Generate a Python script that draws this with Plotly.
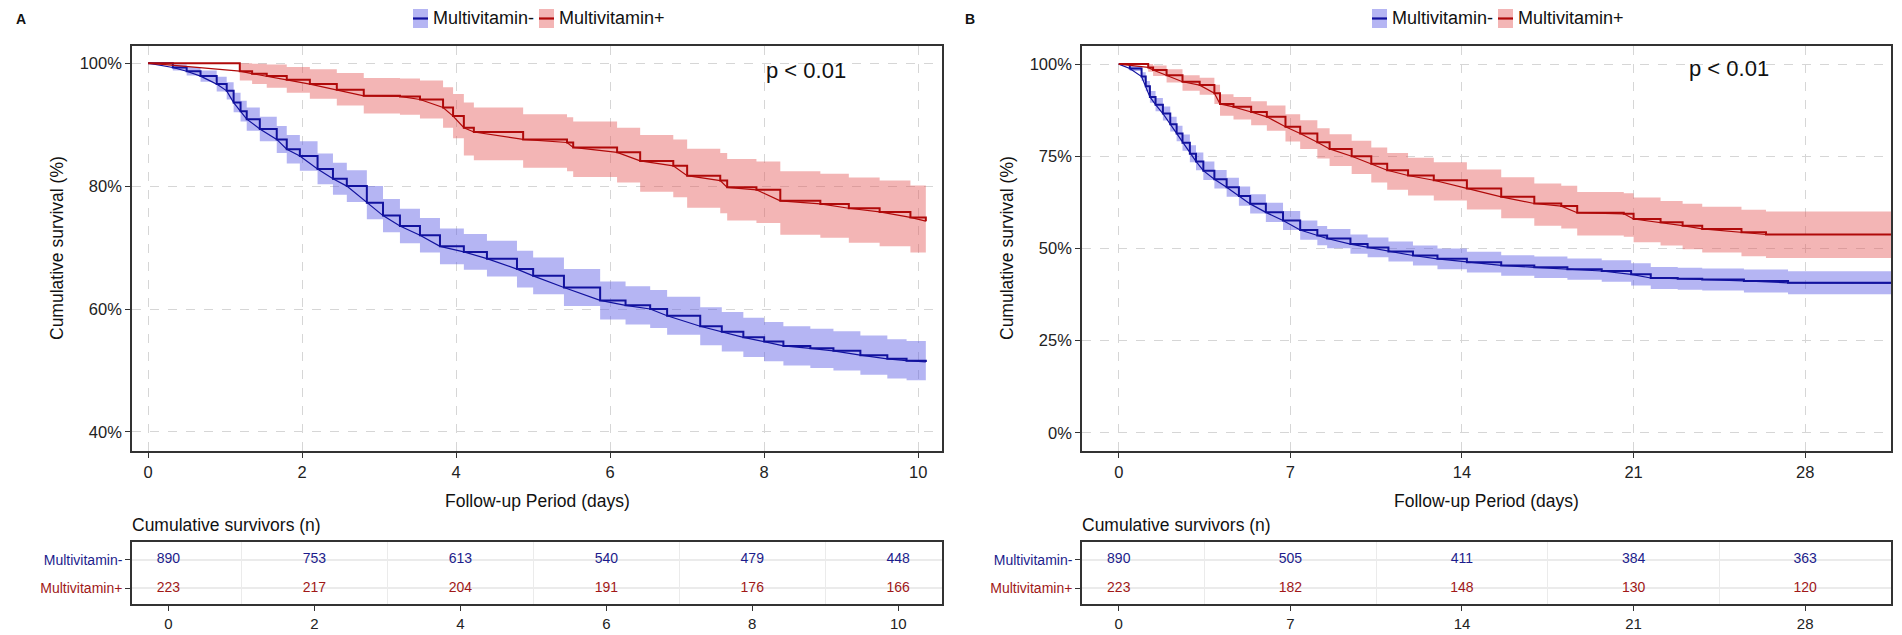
import plotly.graph_objects as go

# ---------------- data ----------------
# Panel A (10-day follow-up)
A_neg_t = [0, 0.32, 0.5, 0.68, 0.89, 1.02, 1.11, 1.2, 1.28, 1.45, 1.67, 1.8, 1.97, 2.2, 2.4, 2.58,
           2.84, 3.05, 3.27, 3.53, 3.79, 4.1, 4.4, 4.79, 5.0, 5.4, 5.87, 6.2, 6.52, 6.74, 7.17, 7.45,
           7.73, 8.0, 8.25, 8.6, 8.9, 9.25, 9.6, 9.85, 10.1]
A_neg_s = [100, 99.3, 98.7, 97.9, 96.6, 95.5, 93.6, 92.2, 90.9, 89.3, 87.6, 86.0, 84.9, 82.8, 81.2, 80.0,
           77.3, 75.2, 73.5, 72.0, 70.2, 69.3, 68.2, 66.5, 65.4, 63.5, 61.4, 60.6, 60.0, 58.9, 57.2, 56.3,
           55.4, 54.7, 54.0, 53.6, 53.2, 52.5, 51.9, 51.6, 51.4]
A_neg_lo = [100, 98.8, 98.0, 97.0, 95.4, 94.1, 92.0, 90.5, 89.0, 87.3, 85.4, 83.7, 82.5, 80.3, 78.6, 77.4,
            74.6, 72.5, 70.7, 69.2, 67.3, 66.4, 65.3, 63.5, 62.4, 60.5, 58.3, 57.5, 56.9, 55.8, 54.1, 53.1,
            52.2, 51.5, 50.8, 50.4, 50.0, 49.3, 48.7, 48.4, 48.2]
A_neg_hi = [100, 99.8, 99.4, 98.8, 97.8, 96.9, 95.2, 93.9, 92.8, 91.3, 89.8, 88.3, 87.3, 85.3, 83.8, 82.6,
            80.0, 77.9, 76.3, 74.8, 73.1, 72.2, 71.1, 69.5, 68.4, 66.5, 64.5, 63.7, 63.1, 62.0, 60.3, 59.5,
            58.6, 57.9, 57.2, 56.8, 56.4, 55.7, 55.1, 54.8, 54.6]

A_pos_t = [0, 1.19, 1.35, 1.54, 1.8, 2.1, 2.45, 2.8, 3.27, 3.53, 3.83, 3.96, 4.1, 4.23, 4.87, 5.44,
           5.52, 6.09, 6.39, 6.82, 7.0, 7.43, 7.52, 7.9, 8.21, 8.73, 9.1, 9.5, 9.9, 10.1]
A_pos_s = [100, 98.7, 98.3, 97.9, 97.3, 96.6, 95.7, 94.7, 94.6, 94.1, 92.8, 91.4, 89.5, 88.8, 87.6, 87.1,
           86.3, 85.5, 84.1, 83.3, 81.7, 80.9, 79.8, 79.4, 77.6, 77.1, 76.4, 75.8, 74.9, 74.3]
A_pos_lo = [100, 97.2, 96.6, 96.0, 95.2, 94.2, 93.1, 91.8, 91.6, 91.0, 89.5, 87.8, 85.0, 84.2, 83.0, 82.4,
            81.5, 80.6, 79.1, 78.2, 76.5, 75.6, 74.4, 74.0, 72.1, 71.6, 70.8, 70.2, 69.2, 68.6]
A_pos_hi = [100, 100, 99.9, 99.8, 99.4, 99.0, 98.4, 97.6, 97.5, 97.2, 96.1, 95.0, 93.6, 92.8, 91.7, 91.2,
            90.5, 89.5, 88.3, 87.6, 86.1, 85.4, 84.4, 84.0, 82.4, 82.0, 81.4, 80.9, 80.1, 79.6]

# Panel B (30-day follow-up)
B_neg_t = [0, 0.45, 0.93, 1.1, 1.27, 1.5, 1.8, 2.1, 2.36, 2.6, 2.9, 3.15, 3.45, 3.9, 4.4, 4.9, 5.36,
           6.0, 6.7, 7.4, 8.1, 8.5, 9.45, 10.15, 11, 12, 13, 14.2, 15.6, 16.95, 18.3, 19.7, 20.9, 21.7,
           22.8, 23.8, 25.5, 27.3, 31.5]
B_neg_s = [100, 98.8, 96.6, 94.0, 91.1, 89.0, 86.6, 83.7, 81.2, 78.7, 75.7, 73.6, 71.1, 68.8, 66.6, 64.2,
           62.1, 59.8, 57.6, 55.0, 53.5, 52.7, 51.2, 50.3, 49.2, 48.1, 47.2, 46.3, 45.4, 44.9, 44.4, 43.9,
           43.0, 42.0, 41.8, 41.6, 41.2, 40.7, 40.6]
B_neg_lo = [100, 98.1, 95.4, 92.6, 89.5, 87.2, 84.7, 81.7, 79.1, 76.5, 73.4, 71.2, 68.6, 66.3, 64.0, 61.6,
            59.5, 57.2, 55.0, 52.4, 50.9, 50.1, 48.6, 47.6, 46.5, 45.4, 44.4, 43.5, 42.6, 42.0, 41.5, 41.0,
            40.0, 39.0, 38.8, 38.6, 38.1, 37.6, 37.5]
B_neg_hi = [100, 99.5, 97.8, 95.4, 92.7, 90.8, 88.5, 85.7, 83.3, 80.9, 78.0, 76.0, 73.6, 71.3, 69.2, 66.8,
            64.7, 62.4, 60.2, 57.6, 56.1, 55.3, 53.8, 53.0, 51.9, 50.8, 50.0, 49.1, 48.2, 47.8, 47.3, 46.8,
            46.0, 45.0, 44.8, 44.6, 44.3, 43.8, 43.7]

B_pos_t = [0, 1.2, 1.4, 1.95, 2.6, 3.3, 3.9, 4.13, 4.68, 5.4, 6.04, 6.8, 7.4, 8.1, 8.6, 9.5, 10.3, 10.95,
           11.8, 12.85, 14.2, 15.6, 16.95, 18.05, 18.7, 20.6, 21.0, 22.1, 23.0, 23.8, 25.4, 26.4, 31.5]
B_pos_s = [100, 99.1, 98.4, 97.0, 95.2, 94.3, 92.1, 89.2, 88.4, 87.0, 85.7, 83.0, 81.2, 78.8, 77.0, 75.0,
           73.0, 71.2, 69.8, 68.5, 66.3, 64.0, 62.2, 61.5, 59.7, 59.4, 58.0, 57.1, 56.2, 55.3, 54.4, 53.8, 53.8]
B_pos_lo = [100, 97.9, 96.8, 95.0, 92.8, 91.7, 89.2, 86.0, 85.0, 83.4, 81.9, 79.0, 77.0, 74.4, 72.4, 70.2,
            67.9, 65.9, 64.4, 63.0, 60.6, 58.2, 56.2, 55.4, 53.5, 53.2, 51.7, 50.8, 49.8, 48.9, 47.9, 47.4, 47.4]
B_pos_hi = [100, 100, 99.6, 98.6, 97.0, 96.3, 94.4, 91.8, 91.1, 89.9, 88.8, 86.4, 84.8, 82.6, 81.0, 79.2,
            77.4, 75.9, 74.6, 73.4, 71.4, 69.3, 67.6, 67.0, 65.3, 65.0, 63.8, 62.9, 62.1, 61.3, 60.5, 60.0, 60.0]

# Risk tables
A_table_t = [0, 2, 4, 6, 8, 10]
A_table_neg = [890, 753, 613, 540, 479, 448]
A_table_pos = [223, 217, 204, 191, 176, 166]
B_table_t = [0, 7, 14, 21, 28]
B_table_neg = [890, 505, 411, 384, 363]
B_table_pos = [223, 182, 148, 130, 120]

groups = ["Multivitamin-", "Multivitamin+"]
A_yticks = [40, 60, 80, 100]
B_yticks = [0, 25, 50, 75, 100]

# ---------------- styles ----------------
FONT = "Liberation Sans"
BLUE = "#12129E"
RED = "#B00A0A"
BLUE_FILL = "rgba(90,90,228,0.45)"
RED_FILL = "rgba(228,90,90,0.45)"
BLUE_TXT = "#1C1C8C"
RED_TXT = "#A01818"
W, H = 1902, 635


def px(x):
    return x / W


def py(y):
    return 1 - y / H


fig = go.Figure()


def add_curve(xa, ya, t, s, lo, hi, line_c, fill_c):
    fig.add_trace(go.Scatter(x=t, y=lo, mode="lines", line=dict(width=0, shape="hv"),
                             xaxis=xa, yaxis=ya, showlegend=False, hoverinfo="skip"))
    fig.add_trace(go.Scatter(x=t, y=hi, mode="lines", line=dict(width=0, shape="hv"),
                             fill="tonexty", fillcolor=fill_c,
                             xaxis=xa, yaxis=ya, showlegend=False, hoverinfo="skip"))
    fig.add_trace(go.Scatter(x=t, y=s, mode="lines", line=dict(width=2.0, color=line_c, shape="hv"),
                             xaxis=xa, yaxis=ya, showlegend=False))
    fig.add_trace(go.Scatter(x=t, y=s, mode="lines", line=dict(width=1.2, color=line_c, shape="linear"),
                             xaxis=xa, yaxis=ya, showlegend=False, hoverinfo="skip"))


add_curve("x", "y", A_neg_t, A_neg_s, A_neg_lo, A_neg_hi, BLUE, BLUE_FILL)
add_curve("x", "y", A_pos_t, A_pos_s, A_pos_lo, A_pos_hi, RED, RED_FILL)
add_curve("x2", "y2", B_neg_t, B_neg_s, B_neg_lo, B_neg_hi, BLUE, BLUE_FILL)
add_curve("x2", "y2", B_pos_t, B_pos_s, B_pos_lo, B_pos_hi, RED, RED_FILL)

# risk-table numbers
for xa, ya, tt, neg, pos in [("x3", "y3", A_table_t, A_table_neg, A_table_pos),
                             ("x4", "y4", B_table_t, B_table_neg, B_table_pos)]:
    fig.add_trace(go.Scatter(x=tt, y=[2] * len(tt), mode="text", text=[str(v) for v in neg],
                             textfont=dict(family=FONT, size=14, color=BLUE_TXT),
                             xaxis=xa, yaxis=ya, showlegend=False))
    fig.add_trace(go.Scatter(x=tt, y=[1] * len(tt), mode="text", text=[str(v) for v in pos],
                             textfont=dict(family=FONT, size=14, color=RED_TXT),
                             xaxis=xa, yaxis=ya, showlegend=False))

# ---------------- axes ----------------
plotA_x = [px(132), px(942)]
plotB_x = [px(1082), px(1891)]
plot_y = [py(451), py(46)]
tab_y = [py(604), py(542)]

box = dict(showline=True, mirror=True, linecolor="#333333", linewidth=1.6, ticks="outside",
           ticklen=5, tickcolor="#333333", tickwidth=1.2, zeroline=False)
grid = dict(showgrid=True, gridcolor="#D6D6D6", griddash="dash", gridwidth=1)
tickf = dict(family=FONT, size=16.5, color="#222222")

fig.update_layout(
    xaxis=dict(domain=plotA_x, range=[-0.21, 10.31], tickvals=A_table_t, anchor="y",
               tickfont=tickf, **box, **grid),
    yaxis=dict(domain=plot_y, range=[36.9, 102.8], tickvals=A_yticks,
               ticktext=[f"{v}%" for v in A_yticks], anchor="x",
               tickfont=tickf, **box, **grid),
    xaxis2=dict(domain=plotB_x, range=[-1.5, 31.5], tickvals=B_table_t, anchor="y2",
                tickfont=tickf, **box, **grid),
    yaxis2=dict(domain=plot_y, range=[-4.9, 104.9], tickvals=B_yticks,
                ticktext=[f"{v}%" for v in B_yticks], anchor="x2",
                tickfont=tickf, **box, **grid),
)

tab_common_x = dict(showgrid=False, tickfont=dict(family=FONT, size=15, color="#222222"), **box)
ticktext = [f"<span style='color:{RED_TXT}'>{groups[1]}</span>",
            f"<span style='color:{BLUE_TXT}'>{groups[0]}</span>"]
tab_common_y = dict(range=[0.43, 2.64], tickvals=[1, 2], ticktext=ticktext, showgrid=True,
                    gridcolor="#EBEBEB", gridwidth=1.5,
                    tickfont=dict(family=FONT, size=14), **box)

fig.update_layout(
    xaxis3=dict(domain=plotA_x, range=[-0.5, 10.6], tickvals=A_table_t, anchor="y3",
                minor=dict(tickvals=[1, 3, 5, 7, 9], showgrid=True, gridcolor="#EBEBEB", ticks=""),
                **tab_common_x),
    yaxis3=dict(domain=tab_y, anchor="x3", **tab_common_y),
    xaxis4=dict(domain=plotB_x, range=[-1.5, 31.5], tickvals=B_table_t, anchor="y4",
                minor=dict(tickvals=[3.5, 10.5, 17.5, 24.5], showgrid=True, gridcolor="#EBEBEB", ticks=""),
                **tab_common_x),
    yaxis4=dict(domain=tab_y, anchor="x4", **tab_common_y),
)

# ---------------- annotations ----------------
ann = []
titlef = dict(family=FONT, size=17.5, color="#111111")
ann.append(dict(x=px(14), y=py(19), text="<b>A</b>", showarrow=False, xanchor="left", yanchor="middle",
                xref="paper", yref="paper", font=dict(family=FONT, size=14, color="#111")))
ann.append(dict(x=px(963), y=py(19), text="<b>B</b>", showarrow=False, xanchor="left", yanchor="middle",
                xref="paper", yref="paper", font=dict(family=FONT, size=14, color="#111")))
for cx in [537, 1486]:
    ann.append(dict(x=px(cx), y=py(501), text="Follow-up Period (days)", showarrow=False,
                    xanchor="center", yanchor="middle", xref="paper", yref="paper", font=titlef))
for lx in [132, 1082]:
    ann.append(dict(x=px(lx - 2), y=py(525), text="Cumulative survivors (n)", showarrow=False,
                    xanchor="left", yanchor="middle", xref="paper", yref="paper", font=titlef))
for yx in [57, 1007]:
    ann.append(dict(x=px(yx), y=py(248), text="Cumulative survival (%)", showarrow=False, textangle=-90,
                    xanchor="center", yanchor="middle", xref="paper", yref="paper", font=titlef))
for (cx, cy) in [(806, 70), (1729, 69)]:
    ann.append(dict(x=px(cx), y=py(cy), text="p < 0.01", showarrow=False, xanchor="center",
                    yanchor="middle", xref="paper", yref="paper",
                    font=dict(family=FONT, size=22, color="#111")))

# manual legends
shapes = []
LEG_SIZE = 18
legf = dict(family=FONT, size=LEG_SIZE, color="#111")
for x0 in [413, 1372]:
    items = [(x0, groups[0], BLUE, BLUE_FILL), (x0 + 126, groups[1], RED, RED_FILL)]
    for sx, name, lc, fc in items:
        shapes.append(dict(type="rect", xref="paper", yref="paper", x0=px(sx), x1=px(sx + 15),
                           y0=py(28), y1=py(9), fillcolor=fc, line=dict(width=0)))
        shapes.append(dict(type="line", xref="paper", yref="paper", x0=px(sx), x1=px(sx + 15),
                           y0=py(18.5), y1=py(18.5), line=dict(color=lc, width=2.2)))
        ann.append(dict(x=px(sx + 18), y=py(18.5), text=name, showarrow=False, xanchor="left",
                        yanchor="middle", xref="paper", yref="paper", font=legf))

fig.update_layout(annotations=ann, shapes=shapes, width=W, height=H,
                  margin=dict(l=0, r=0, t=0, b=0), plot_bgcolor="white", paper_bgcolor="white",
                  showlegend=False, font=dict(family=FONT))

fig.write_html("out.html", config={"displayModeBar": False},
               post_script="document.body.style.margin='0px';document.body.style.overflow='hidden';")
